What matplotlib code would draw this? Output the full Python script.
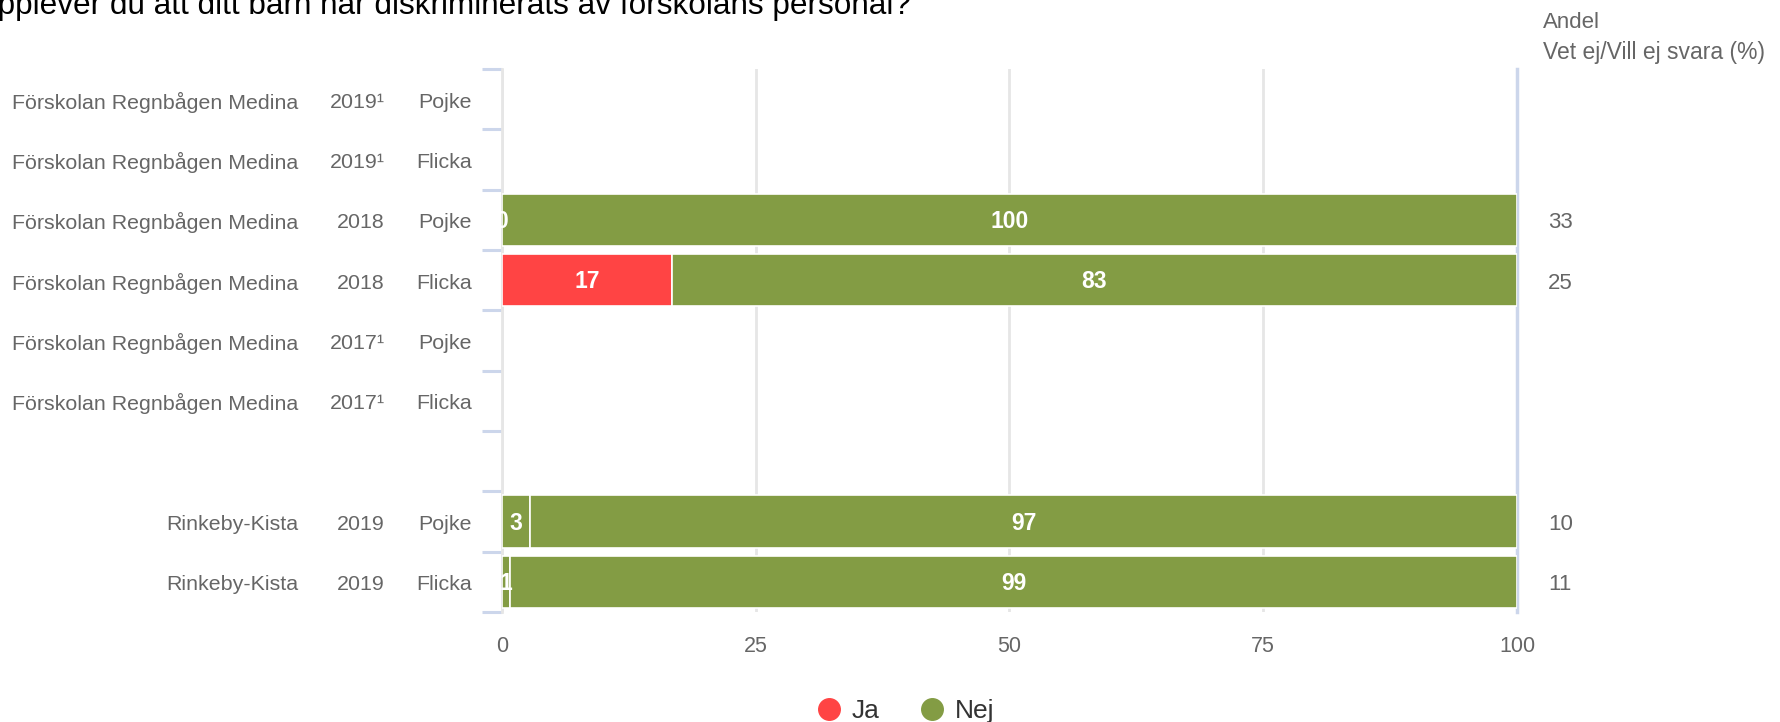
import numpy as np
import matplotlib
matplotlib.use("Agg")
import matplotlib.pyplot as plt
from matplotlib.lines import Line2D

plt.rcParams['font.family'] = ['Liberation Sans', 'DejaVu Sans']

# rows top to bottom, one empty spacer row between the groups
units = ["Förskolan Regnbågen Medina"] * 6 + ["", "Rinkeby-Kista", "Rinkeby-Kista"]
years = ["2019¹", "2019¹", "2018", "2018", "2017¹", "2017¹", "", "2019", "2019"]
genders = ["Pojke", "Flicka", "Pojke", "Flicka", "Pojke", "Flicka", "", "Pojke", "Flicka"]
ja = [None, None, 0, 16.7, None, None, None, 2.8, 0.8]
nej = [None, None, 100, 83.3, None, None, None, 97.2, 99.2]
vet_ej = [None, None, 33, 25, None, None, None, 10, 11]
# the Rinkeby-Kista "Ja" segments are drawn green in the original
ja_point_colors = [None, None, "#ff4444", "#ff4444", None, None, None, "#839c44", "#839c44"]

title = "Upplever du att ditt barn har diskriminerats av förskolans personal?"
series_names = ["Ja", "Nej"]
colors = {"Ja": "#ff4444", "Nej": "#839c44"}

W, H = 1781, 722
fig = plt.figure(figsize=(W / 100, H / 100), dpi=100)

# plot area in pixels
px_left, px_right, px_top, px_bottom = 502, 1517, 69, 612
ax = fig.add_axes([px_left / W, 1 - px_bottom / H,
                   (px_right - px_left) / W, (px_bottom - px_top) / H])

def ax_x(px):
    return (px - px_left) / (px_right - px_left)

n = len(units)
bar_h = 0.862

for i in range(n):
    if ja[i] is None:
        continue
    ax.barh(i, ja[i], height=bar_h, color=ja_point_colors[i], edgecolor="white", linewidth=1.2, zorder=3)
    ax.barh(i, nej[i], left=ja[i], height=bar_h, color=colors["Nej"], edgecolor="white", linewidth=1.2, zorder=3)
    ax.text(ja[i] / 2, i + 0.03, f"{ja[i]:.0f}", ha="center", va="center", color="white",
            fontsize=16.5, fontweight="bold", zorder=4)
    ax.text(ja[i] + nej[i] / 2, i + 0.03, f"{nej[i]:.0f}", ha="center", va="center", color="white",
            fontsize=16.5, fontweight="bold", zorder=4)

ax.set_xlim(0, 100)
ax.set_ylim(n - 0.5, -0.5)
ax.set_xticks([0, 25, 50, 75, 100])
ax.tick_params(axis="x", length=0, pad=17, labelsize=15.5, labelcolor="#666666")
ax.xaxis.grid(True, color="#e6e6e6", linewidth=2)
ax.set_axisbelow(True)

ax.set_yticks([])
ax.set_yticks(np.arange(n + 1) - 0.5, minor=True)
ax.tick_params(axis="y", which="minor", length=14.4, width=2.2, color="#ccd6eb")
ax.tick_params(axis="y", which="major", length=0)

for s in ["top", "bottom"]:
    ax.spines[s].set_visible(False)
ax.spines["left"].set_color("#e6e6e6")
ax.spines["left"].set_linewidth(2)
ax.spines["right"].set_color("#ccd6eb")
ax.spines["right"].set_linewidth(2.5)

trans = ax.get_yaxis_transform()
lab = dict(fontsize=15.4, color="#666666", va="center", transform=trans, clip_on=False)
for i in range(n):
    yy = i + 0.05
    ax.text(ax_x(298), yy, units[i], ha="right", **lab)
    ax.text(ax_x(385), yy, years[i], ha="right", **lab)
    ax.text(ax_x(472), yy, genders[i], ha="right", **lab)
    if vet_ej[i] is not None:
        ax.text(ax_x(1548), yy, str(vet_ej[i]), ha="left", fontsize=16, color="#666666",
                va="center", transform=trans, clip_on=False)

fig.text(1543 / W, 1 - 28 / H, "Andel", fontsize=16, color="#666666", va="baseline")
fig.text(1543 / W, 1 - 59 / H, "Vet ej/Vill ej svara (%)", fontsize=16.5, color="#666666", va="baseline")

fig.text(-25 / W, 1 - 14 / H, title, fontsize=22.7, color="black", va="baseline")

handles = [Line2D([], [], marker="o", linestyle="none", markersize=15.5,
                  markerfacecolor=colors[s], markeredgecolor=colors[s]) for s in series_names]
fig.legend(handles, series_names, loc="center", bbox_to_anchor=(905 / W, 1 - 711 / H),
           ncol=2, frameon=False, fontsize=19, labelcolor="#333333",
           handletextpad=0.35, columnspacing=1.5, handlelength=1.0,
           borderpad=0, borderaxespad=0)

fig.savefig("out.png", dpi=100)
